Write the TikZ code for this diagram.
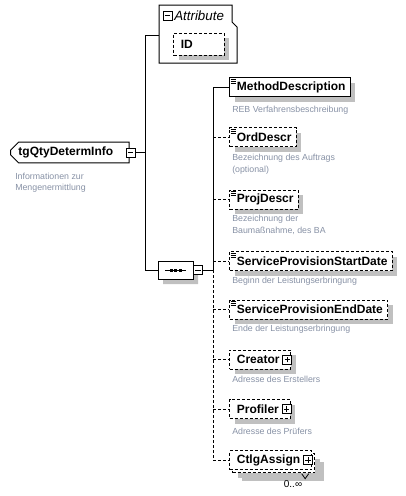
\documentclass[tikz,border=0pt]{standalone}
\usepackage{fontspec}
\setmainfont{Liberation Sans}
\usetikzlibrary{positioning, shapes.misc, shadows}
\definecolor{desccol}{RGB}{135,145,165}
\definecolor{shadecol}{RGB}{192,192,192}

\tikzset{
  elembase/.style={draw, fill=white, anchor=west, line width=0.75pt,
    minimum height=14.25pt, inner xsep=3.5pt, inner ysep=0pt,
    font=\bfseries\fontsize{9}{11}\selectfont},
  elem/.style={elembase, drop shadow={shadow xshift=3.75pt, shadow yshift=-3.75pt, fill=shadecol, opacity=1}},
  optelem/.style={elem, dashed, dash pattern=on 2.25pt off 1.5pt},
  desc/.style={anchor=north west, align=left, inner sep=0pt, text=desccol,
    font=\fontsize{6.6}{9}\selectfont},
  pmbox/.style={draw, solid, fill=white, line width=0.75pt, minimum size=6.75pt, inner sep=0pt},
  minusbox/.style={pmbox, path picture={
    \draw[line width=0.6pt] ([xshift=1.3pt]path picture bounding box.west) -- ([xshift=-1.3pt]path picture bounding box.east);}},
  plusbox/.style={pmbox, path picture={
    \draw[line width=0.6pt] ([xshift=1.3pt]path picture bounding box.west) -- ([xshift=-1.3pt]path picture bounding box.east);
    \draw[line width=0.6pt] ([yshift=1.3pt]path picture bounding box.south) -- ([yshift=-1.3pt]path picture bounding box.north);}},
  conn/.style={line width=0.75pt},
  optconn/.style={conn, dashed, dash pattern=on 2.25pt off 1.5pt},
}

\begin{document}
\begin{tikzpicture}[x=0.75pt, y=-0.75pt]
\useasboundingbox (0,0) rectangle (406,496);

% root type
\node[chamfered rectangle, chamfered rectangle corners={north west,south west},
      chamfered rectangle xsep=2.5pt, draw, line width=0.75pt, anchor=west,
      minimum height=12.75pt, inner xsep=3.5pt, inner ysep=0pt,
      font=\bfseries\fontsize{9}{11}\selectfont] (root) at (10,152.5) {tgQtyDetermInfo\kern6pt};
\node[minusbox] (rootpm) at ([xshift=0.75pt]root.east) {};
\node[desc, font=\fontsize{6.6}{8.25}\selectfont] (rootdesc) at (15,173) {Informationen zur\\Mengenermittlung};

% attribute group
\coordinate (attrw) at (159,35);
\draw[line width=0.75pt, fill=white] (159,5) -- (232,5) -- (232,22) -- (237,27) -- (237,63) -- (159,63) -- cycle;
\node[minusbox] (attrpm) at (167.5,15.5) {};
\node[anchor=west, inner sep=0pt, font=\itshape\fontsize{10}{12}\selectfont] (attrlabel) at (174,16) {Attribute};
\node[optelem, minimum height=16.5pt] (id) at (173,44) {\kern2pt ID\kern20pt};

% trunk
\coordinate (t1) at (145,35);
\coordinate (t2) at (145,270);
\draw[conn] (t1) -- (t2);
\draw[conn] (t1) -- (attrw);
\draw[conn] (rootpm.east) -- (rootpm.east -| t1);

% sequence
\node[chamfered rectangle, chamfered rectangle xsep=3.5pt, chamfered rectangle ysep=3.5pt,
      draw, fill=white, line width=0.75pt, minimum width=26.25pt, minimum height=13.5pt, inner sep=0pt,
      drop shadow={shadow xshift=3.75pt, shadow yshift=-3.75pt, fill=shadecol, opacity=1}] (seq) at (175.5,270) {};
\draw[line width=0.75pt] (165,270) -- (186,270);
\foreach \dx in {171,175.5,180}
  \fill (\dx-1.5,268.5) rectangle (\dx+1.5,271.5);
\node[minusbox] (seqpm) at (198,270) {};
\draw[conn] (t2) -- (seq.west);
\coordinate (s) at (213,270);
\draw[conn] (seqpm.east) -- (s);

% children
\node[elem] (md) at (229,87) {\kern2pt MethodDescription};
\node[optelem] (ord) at (229,137) {\kern2pt OrdDescr};
\node[optelem] (proj) at (229,199.5) {\kern2pt ProjDescr};
\node[optelem] (start) at (229,261) {\kern2pt ServiceProvisionStartDate};
\node[optelem] (end) at (229,309.5) {\kern2pt ServiceProvisionEndDate};
\node[optelem] (creator) at (229,359.5) {\kern2pt Creator\kern5pt};
\node[optelem] (profiler) at (229,409) {\kern2pt Profiler\kern5pt};
\node[optelem, drop shadow={shadow xshift=6.75pt, shadow yshift=-6pt, fill=shadecol, opacity=1}] (ctlgback) at (232,463) {\kern2pt\phantom{CtlgAssign}\kern5pt};
\node[elembase, dashed, dash pattern=on 2.25pt off 1.5pt] (ctlg) at (229,460) {\kern2pt CtlgAssign\kern5pt};
\draw[line width=0.6pt] ([xshift=-10pt,yshift=-0.5pt]ctlgback.south east) -- ++(3.5,5) -- ++(3.5,-5);
\node[plusbox] (creatorpm) at ([xshift=-3pt]creator.east) {};
\node[plusbox] (profilerpm) at ([xshift=-3pt]profiler.east) {};
\node[plusbox] (ctlgpm) at ([xshift=-3pt]ctlg.east) {};
\node[inner sep=0pt, font=\fontsize{7.5}{9}\selectfont] (card) at (293,484) {0..∞};

% doc icons
\foreach \n in {md,ord,proj,start,end}
  \foreach \k in {2,4,6}
    \draw[line width=0.6pt] ([shift={(1.5,\k)}]\n.north west) -- ++(5.5,0);

% connectors
\draw[conn] (md.west -| s) -- (s);
\draw[optconn] (s) -- (ctlg.west -| s);
\draw[conn] (md.west -| s) -- (md.west);
\foreach \n in {ord,proj,start,end,creator,profiler,ctlg}
  \draw[optconn] (\n.west -| s) -- (\n.west);

% descriptions
\node[desc] (mddesc) at (232,106) {REB Verfahrensbeschreibung};
\node[desc] (orddesc) at (232,154) {Bezeichnung des Auftrags\\(optional)};
\node[desc] (projdesc) at (232,215) {Bezeichnung der\\Baumaßnahme, des BA};
\node[desc] (startdesc) at (232,277) {Beginn der Leistungserbringung};
\node[desc] (enddesc) at (232,325) {Ende der Leistungserbringung};
\node[desc] (creatordesc) at (232,376) {Adresse des Erstellers};
\node[desc] (profilerdesc) at (232,428) {Adresse des Prüfers};
\end{tikzpicture}
\end{document}
